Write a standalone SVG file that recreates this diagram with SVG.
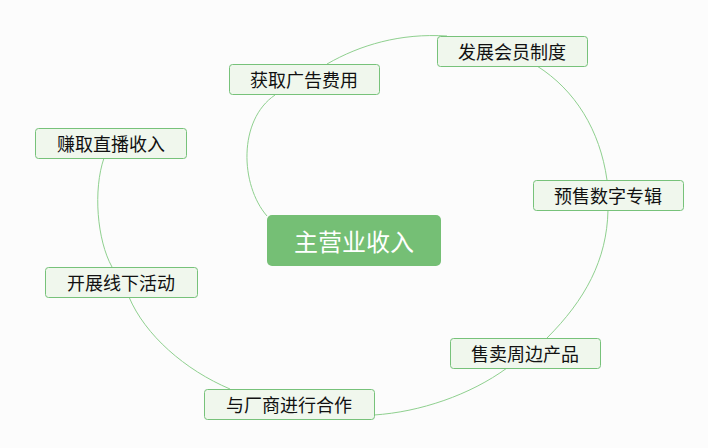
<svg xmlns="http://www.w3.org/2000/svg" width="708" height="448" viewBox="0 0 708 448">
<style>
.bg{fill:#fcfcfc}
.node rect{fill:#f0f7ed;stroke:#77c27a;stroke-width:1}
.node text{font-family:"Noto Sans CJK SC","Microsoft YaHei",sans-serif;font-size:18px;fill:#111;text-anchor:middle}
.main rect{fill:#75bf75;stroke:none}
.main text{font-family:"Noto Sans CJK SC","Microsoft YaHei",sans-serif;font-size:24px;fill:#fff;text-anchor:middle}
.conn path{fill:none;stroke:#8fd08f;stroke-width:1}
</style>
<rect class="bg" x="0" y="0" width="708" height="448"/>
<g class="conn" id="connectors">
<path d="M267,216 C240,185 238,120 275,95"/>
<path d="M327,64 C360,45 400,33 447,36"/>
<path d="M537,66 C575,90 600,130 607,180"/>
<path d="M608,210 C607,260 585,300 547,338"/>
<path d="M507,368 C470,395 420,412 374,415"/>
<path d="M230,389 C185,370 145,335 129,297"/>
<path d="M112,267 C97,240 93,190 104,158"/>
</g>
<g id="main" class="main"><rect x="267" y="215" width="174" height="51" rx="5"/><text x="354" y="251">主营业收入</text></g>
<g id="n1" class="node"><rect x="229.5" y="64.5" width="150" height="30" rx="3"/><text x="304" y="87">获取广告费用</text></g>
<g id="n2" class="node"><rect x="437.5" y="36.5" width="150" height="30" rx="3"/><text x="512" y="59">发展会员制度</text></g>
<g id="n3" class="node"><rect x="533.5" y="180.5" width="150" height="30" rx="3"/><text x="608" y="203">预售数字专辑</text></g>
<g id="n4" class="node"><rect x="450.5" y="338.5" width="150" height="30" rx="3"/><text x="525" y="361">售卖周边产品</text></g>
<g id="n5" class="node"><rect x="204.5" y="389.5" width="170" height="30" rx="3"/><text x="289" y="412">与厂商进行合作</text></g>
<g id="n6" class="node"><rect x="45.5" y="267.5" width="152" height="30" rx="3"/><text x="121" y="290">开展线下活动</text></g>
<g id="n7" class="node"><rect x="35.5" y="128.5" width="151" height="30" rx="3"/><text x="111" y="151">赚取直播收入</text></g>
</svg>
